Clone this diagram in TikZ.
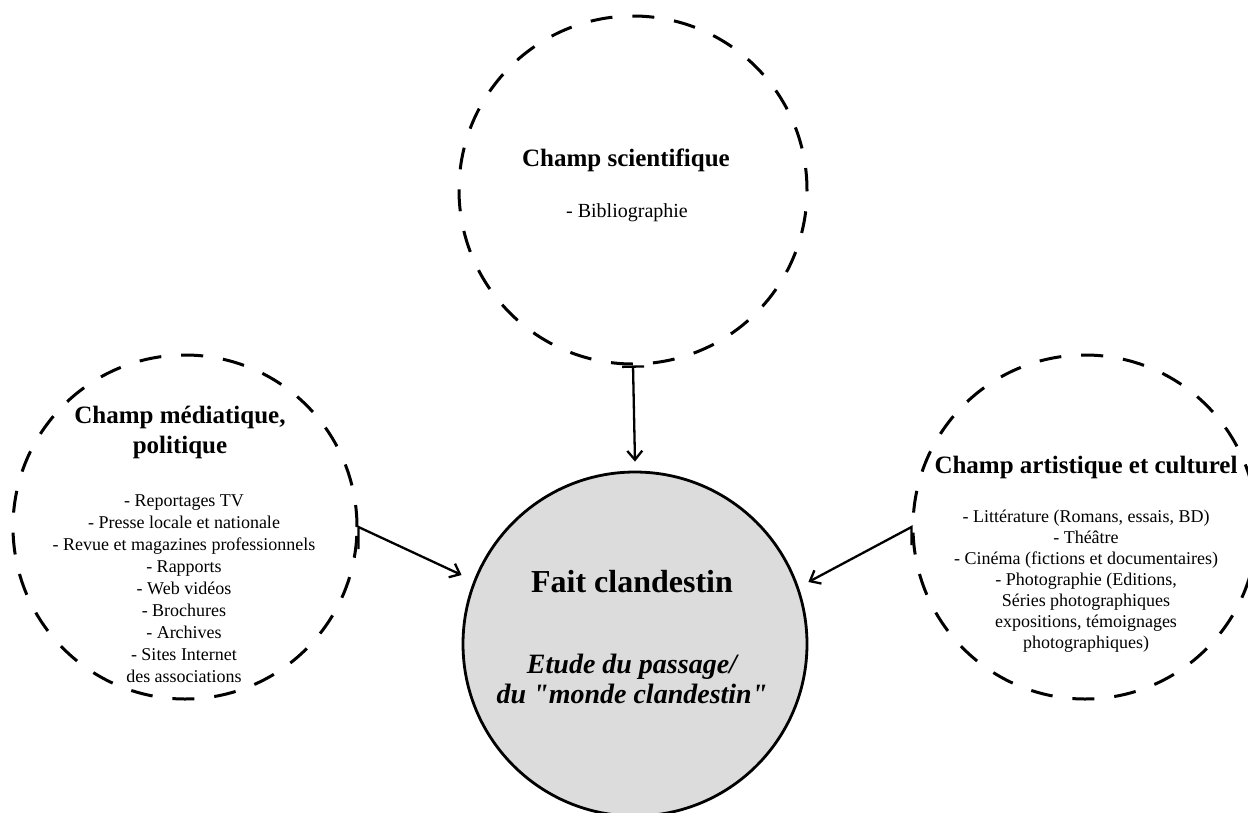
\documentclass[tikz,border=0pt]{standalone}
\usepackage{fontspec}
\setmainfont{Liberation Serif}
\usetikzlibrary{arrows.meta}
\definecolor{coregray}{RGB}{220,220,220}
\begin{document}
\begin{tikzpicture}[x=1pt,y=-1pt,
  field/.style={circle, draw=black, line width=3pt, dash pattern=on 22pt off 20pt, minimum size=344pt, inner sep=0pt},
  core/.style={circle, draw=black, line width=2.8pt, fill=coregray, minimum size=344pt, inner sep=0pt},
  titletext/.style={font=\bfseries\fontsize{25}{30}\selectfont, align=center, inner sep=0pt},
  itemtext/.style={font=\fontsize{18}{22}\selectfont, align=center, inner sep=0pt},
  link/.style={line width=2.3pt, -{Straight Barb[length=9pt,width=15pt]}},
]
\useasboundingbox (0,0) rectangle (1248,812);

% circles
\node[field, minimum size=348pt] (sci) at (633,190) {};
\node[field] (med) at (185,527) {};
\node[field] (art) at (1085,527) {};
\node[core] (fait) at (635,644) {};

% texts
\node[titletext] (sciT) at (626,160) {Champ scientifique};
\node[itemtext, font=\fontsize{20}{24}\selectfont] (sciL) at (627,213) {- Bibliographie};

\node[titletext] (medT) at (180,432) {Champ médiatique,\\politique};
\node[itemtext] (medL) at (184,589) {- Reportages TV\\- Presse locale et nationale\\- Revue et magazines professionnels\\- Rapports\\- Web vidéos\\- Brochures\\- Archives\\- Sites Internet\\des associations};

\node[titletext] (artT) at (1086,467) {Champ artistique et culturel};
\node[itemtext, font=\fontsize{18}{21}\selectfont] (artL) at (1086,581) {- Littérature (Romans, essais, BD)\\- Théâtre\\- Cinéma (fictions et documentaires)\\- Photographie (Editions,\\Séries photographiques\\expositions, témoignages\\photographiques)};

\node[inner sep=0pt, font=\bfseries\fontsize{32}{36}\selectfont] (faitT) at (632,582) {Fait clandestin};
\node[inner sep=0pt, align=center, font=\bfseries\itshape\fontsize{28}{30}\selectfont\addfontfeatures{Ligatures=TeXOff}] (faitL) at (632,679) {Etude du passage/\\du "monde clandestin"};

% connectors
\draw[link, {Bar[width=22pt]}-{Straight Barb[length=9pt,width=15pt]}] (sci.south) -- ([yshift=9pt]fait.north);
\draw[link] ([yshift=-22pt]med.east) -- (med.east) -- ([yshift=69pt]fait.west);
\draw[link] ([yshift=-18pt]art.west) -- (art.west) -- ([yshift=62pt]fait.east);
\end{tikzpicture}
\end{document}
